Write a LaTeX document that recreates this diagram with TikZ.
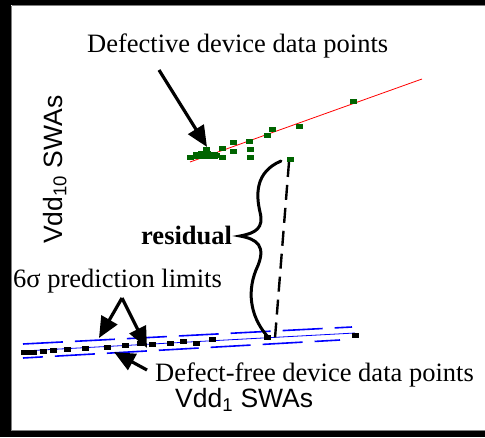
\documentclass[tikz,border=0pt]{standalone}
\usepackage{fontspec}
\setmainfont{Liberation Serif}
\newfontfamily\axisfont{Liberation Sans}
\usetikzlibrary{arrows.meta}
\definecolor{dgreen}{RGB}{0,100,0}
\begin{document}
\begin{tikzpicture}[x=1pt,y=-1pt,
  lbl/.style={inner sep=0pt,anchor=base west,font=\fontsize{26.5}{30}\selectfont},
  axl/.style={inner sep=0pt,anchor=base west,font=\axisfont\fontsize{26.5}{30}\selectfont},
  bigarrow/.style={line width=3.2pt,-{Triangle[length=21pt,width=18pt]}},
  gpt/.style={fill=dgreen,draw=none},
  bpt/.style={fill=black,draw=none},
  lim/.style={blue,line width=1.6pt,dash pattern=on 40pt off 12pt},
  limthin/.style={blue,line width=0.8pt}]
\useasboundingbox (0,0) rectangle (485,437);
% frame
\fill[black] (0,0) rectangle (485,5);
\fill[black] (0,0) rectangle (11,437);
\fill[black] (0,431) rectangle (485,437);
\draw[gray,line width=0.8pt] (11.5,5.5) -- (485,5.5);
\draw[gray,line width=0.8pt] (11.5,5.5) -- (11.5,430.5) -- (485,430.5);
% red regression line
\draw[red,line width=0.8pt] (190,162) -- (422,79);
% green points
\foreach \x/\y in {190/157,196/156,200/155,204/156,208/155,212/154,216/155,201/153,207/153,213/156,206/149,222/148,222/157,233/142,233/151,249/141,250/149,250/157,267/135,272/129,299/126,353/101,290/159}
  \fill[gpt] (\x-3.5,\y-2.5) rectangle (\x+3.5,\y+2.5);
\fill[gpt] (193,152) rectangle (218,159);
% blue prediction limits
\draw[lim] (23,344) -- (352,327);
\draw[lim,dash phase=20pt] (23,358) -- (340,340);
\draw[limthin] (23,351) -- (355,333);
% black data points
\foreach \x/\y in {24/352,29/352,33/352,43/351,53/350,67/349,85/348,107/347,125/345,140/343,152/344,170/343,183/341,196/343,212/339,267/337,355/335}
  \fill[bpt] (\x-3.5,\y-2.5) rectangle (\x+3.5,\y+2.5);
% texts
\node[lbl] (deftxt) at (87,52) {Defective device data points};
\node[lbl,font=\bfseries\fontsize{26.5}{30}\selectfont] (res) at (141,244) {residual};
\node[lbl] (limtxt) at (13,287) {6σ prediction limits};
\node[lbl] (freetxt) at (155,381) {Defect-free device data points};
\node[axl] (xlab) at (175,407) {Vdd\textsubscript{1} SWAs};
\node[axl,rotate=90] (ylab) at (62,244) {Vdd\textsubscript{10} SWAs};
% arrows
\coordinate (dtip) at (207,147);
\draw[bigarrow] (159,70) -- (dtip);
\coordinate (lapex) at (122,298);
\coordinate (ltipA) at (99,338);
\coordinate (ltipB) at (147,348);
\draw[bigarrow] (lapex) -- (ltipA);
\draw[bigarrow] (lapex) -- (ltipB);
\coordinate (ftip) at (114,352);
\draw[bigarrow] (147,370) -- (ftip);
% brace
\coordinate (btop) at (281,161);
\coordinate (btip) at (240,236);
\coordinate (bbot) at (269,338);
\draw[line width=3pt,line cap=round] (btop) .. controls (255,172) and (256,195) .. (260,212)
  .. controls (264,228) and (256,233) .. (btip)
  .. controls (256,239) and (268,245) .. (256,270)
  .. controls (246,295) and (252,320) .. (bbot);
% dashed residual
\coordinate (rtop) at (289,162);
\coordinate (rbot) at (275,338);
\draw[line width=2.4pt,dash pattern=on 15pt off 8pt] (rtop) -- (rbot);
\end{tikzpicture}
\end{document}
